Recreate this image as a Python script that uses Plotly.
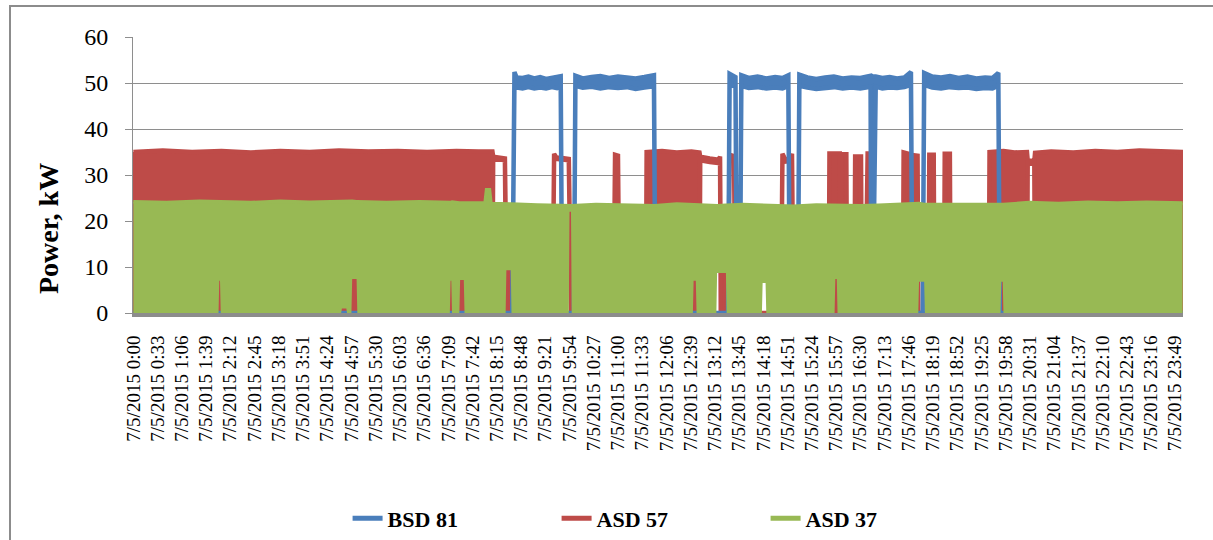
import plotly.graph_objects as go

DATE = "7/5/2015"
MISSING = ("16:46", "16:55")  # minutes absent from the log (labels jump 16:30 -> 17:13)

tick_times = ["0:00", "0:33", "1:06", "1:39", "2:12", "2:45", "3:18", "3:51", "4:24", "4:57",
              "5:30", "6:03", "6:36", "7:09", "7:42", "8:15", "8:48", "9:21", "9:54", "10:27",
              "11:00", "11:33", "12:06", "12:39", "13:12", "13:45", "14:18", "14:51", "15:24",
              "15:57", "16:30", "17:13", "17:46", "18:19", "18:52", "19:25", "19:58", "20:31",
              "21:04", "21:37", "22:10", "22:43", "23:16", "23:49"]

# Each series: time breakpoints with the low / high envelope of the power trace (kW)
bsd81_time = ["0:00", "8:36", "8:39", "8:42", "8:50", "8:58", "9:06", "9:14", "9:22", "9:30", "9:37", "9:42", "9:44",
              "10:00", "10:02", "10:12", "10:24", "10:36", "10:48", "11:00", "11:12", "11:24", "11:36", "11:49", "11:51",
              "13:30", "13:32", "13:40", "13:42", "13:46", "13:48", "13:58", "14:10", "14:22", "14:34", "14:44", "14:52", "14:54",
              "15:05", "15:07", "15:18", "15:30", "15:42", "15:54", "16:06", "16:18", "16:30", "16:44", "16:45",
              "16:57", "17:01", "17:10", "17:20", "17:30", "17:40", "17:49", "17:51",
              "18:05", "18:07", "18:18", "18:30", "18:42", "18:54", "19:06", "19:18", "19:30", "19:40", "19:48", "19:50",
              "23:59"]
bsd81_low = [0, 0, 50.2, 49.0, 48.8, 49.1, 48.8, 49.0, 48.8, 49.1, 48.9, 49.2, 0,
             0, 49.4, 49.0, 49.2, 48.8, 49.1, 48.9, 49.1, 48.7, 49.0, 49.3, 0,
             0, 49.6, 49.2, 0, 0, 49.4, 48.9, 49.1, 48.8, 49.0, 48.8, 49.3, 0,
             0, 49.4, 49.0, 48.7, 48.9, 49.1, 48.8, 49.0, 48.8, 49.2, 0,
             0, 49.2, 48.8, 49.0, 48.9, 49.1, 49.6, 0,
             0, 49.6, 49.0, 48.8, 49.1, 48.9, 49.0, 48.7, 48.9, 48.8, 49.4, 0,
             0]
bsd81_high = [0, 0, 52.4, 51.2, 51.1, 51.4, 51.0, 51.3, 50.9, 51.2, 51.4, 51.5, 0,
              0, 51.6, 51.0, 51.3, 51.5, 51.1, 51.4, 51.2, 51.0, 51.3, 51.7, 0,
              0, 52.0, 51.3, 0, 0, 51.7, 51.1, 51.4, 51.0, 51.3, 51.1, 51.7, 0,
              0, 51.8, 51.2, 50.9, 51.2, 51.4, 51.0, 51.2, 51.1, 51.8, 51.6,
              51.4, 51.4, 51.1, 51.3, 51.0, 51.2, 52.4, 0,
              0, 52.2, 51.4, 51.2, 51.5, 51.1, 51.4, 51.0, 51.2, 51.1, 52.2, 0,
              0]

asd57_time = ["0:00", "0:40", "1:20", "2:00", "2:40", "3:20", "4:00", "4:40", "5:20", "6:00", "6:40", "7:20", "7:50", "8:09",
              "8:10", "8:18", "8:26", "8:28", "8:34", "8:35",
              "9:31", "9:33", "9:36", "9:44", "9:53", "9:56",
              "10:54", "10:56", "11:00", "11:02",
              "11:38", "11:39", "12:00", "12:20", "12:40", "12:51", "12:52", "13:05", "13:17", "13:19", "13:20", "13:27", "13:28",
              "13:30", "13:32", "13:38", "13:40",
              "14:42", "14:44", "14:48", "14:54", "14:57", "14:59",
              "15:47", "15:48", "16:02", "16:03", "16:04", "16:05", "16:11", "16:12",
              "16:22", "16:23", "16:31", "16:32", "16:37", "16:40", "16:45", "16:56", "16:57",
              "17:38", "17:39", "17:46", "17:47", "17:52", "17:53", "17:58", "17:59",
              "18:13", "18:14", "18:20", "18:21", "18:34", "18:35", "18:42", "18:43",
              "19:35", "19:36", "19:55", "20:10", "20:27", "20:28", "20:37", "20:38",
              "21:00", "21:30", "22:00", "22:30", "23:00", "23:30", "23:59"]
asd57_low = [0, 0, 0, 0, 0, 0, 0, 0, 0, 0, 0, 0, 0, 0,
             33.6, 33.4, 33.2, 0, 0, 0,
             0, 34.3, 33.5, 33.4, 33.2, 0,
             0, 34.0, 33.8, 0,
             0, 0, 0, 0, 0, 0, 33.2, 32.8, 32.6, 33.6, 0, 0, 0,
             0, 34.0, 33.7, 0,
             0, 34.2, 32.9, 33.0, 34.2, 0,
             0, 0, 0, 0, 0, 0, 0, 0,
             0, 0, 0, 0, 0, 0, 0, 0, 0,
             0, 0, 0, 33.2, 33.0, 0, 0, 0,
             0, 0, 0, 0, 0, 0, 0, 0,
             0, 0, 0, 0, 0, 32.6, 32.4, 0,
             0, 0, 0, 0, 0, 0, 0]
asd57_high = [35.0, 35.3, 35.0, 35.2, 34.9, 35.2, 35.0, 35.3, 35.1, 35.2, 35.0, 35.2, 35.1, 35.1,
              34.0, 33.8, 33.6, 9.3, 9.3, 0,
              0, 34.6, 33.8, 33.7, 33.5, 0,
              0, 34.4, 34.2, 0,
              0, 35.0, 35.2, 34.9, 35.1, 34.9, 34.0, 33.6, 33.3, 34.0, 8.7, 8.7, 0,
              0, 34.4, 34.1, 0,
              0, 34.6, 33.3, 33.4, 34.6, 0,
              0, 34.7, 34.7, 0, 34.5, 34.5, 34.5, 0,
              0, 34.0, 34.0, 0, 0, 34.7, 34.7, 34.3, 0,
              0, 34.9, 34.6, 33.8, 33.6, 34.3, 34.2, 0,
              0, 34.4, 34.4, 0, 0, 34.6, 34.6, 0,
              0, 35.0, 35.2, 34.9, 35.0, 33.2, 33.0, 34.8,
              35.1, 34.9, 35.2, 35.0, 35.3, 35.1, 35.0]

asd37_time = ["0:00", "0:45", "1:30", "1:56", "1:57", "1:58", "1:59", "2:40", "3:20", "4:00",
              "4:43", "4:44", "4:50", "4:51", "4:57", "4:58", "5:04", "5:05", "5:45", "6:30",
              "7:11", "7:12", "7:13", "7:14", "7:24", "7:25", "7:30", "7:31", "7:59", "8:01", "8:05", "8:07",
              "8:27", "8:28", "8:34", "8:35", "9:10", "9:53", "9:54", "9:56", "9:57",
              "10:30", "11:10", "11:50", "12:20", "12:42", "12:43", "12:46", "12:47",
              "13:14", "13:15", "13:27", "13:28", "13:50", "14:16", "14:17", "14:21", "14:22",
              "15:00", "15:30", "15:55", "15:56", "15:58", "15:59", "16:30", "17:05", "17:40",
              "17:59", "18:00", "18:07", "18:08", "18:45", "19:20", "19:51", "19:52", "19:54", "19:55",
              "20:30", "21:10", "21:50", "22:30", "23:10", "23:59"]
asd37_low = [0, 0, 0, 0, 7.0, 7.0, 0, 0, 0, 0,
             0, 1.0, 1.0, 0, 0, 7.4, 7.4, 0, 0, 0,
             0, 7.0, 7.0, 0, 0, 7.2, 7.2, 0, 0, 0, 0, 0,
             0, 9.3, 9.3, 0, 0, 0, 22.0, 22.0, 0,
             0, 0, 0, 0, 0, 7.0, 7.0, 0,
             0, 8.7, 8.7, 0, 0, 0, 6.5, 6.5, 0,
             0, 0, 0, 7.4, 7.4, 0, 0, 0, 0,
             0, 6.8, 6.8, 0, 0, 0, 0, 6.8, 6.8, 0,
             0, 0, 0, 0, 0, 0]
asd37_high = [24.2, 24.0, 24.3, 24.1, 24.1, 24.2, 24.2, 24.0, 24.3, 24.1,
              24.2, 24.2, 24.4, 24.4, 24.3, 24.3, 24.2, 24.2, 24.0, 24.2,
              24.0, 24.0, 24.1, 24.1, 23.9, 23.9, 24.0, 24.0, 23.9, 26.8, 26.8, 23.8,
              23.6, 23.6, 23.7, 23.7, 23.5, 23.4, 23.4, 23.3, 23.3,
              23.6, 23.4, 23.3, 23.7, 23.5, 23.5, 23.4, 23.4,
              23.3, 23.3, 23.4, 23.4, 23.6, 23.4, 23.4, 23.5, 23.5,
              23.2, 23.5, 23.4, 23.4, 23.5, 23.5, 23.3, 23.4, 23.6,
              23.8, 23.8, 23.6, 23.6, 23.5, 23.6, 23.5, 23.5, 23.6, 23.6,
              24.0, 23.8, 24.1, 23.9, 24.1, 23.9]

COLORS = {"BSD 81": "#4A7EBB", "ASD 57": "#BE4B48", "ASD 37": "#98B954"}
FONT = "Liberation Serif, Times New Roman, serif"


def hm(t):
    h, m = t.split(":")
    return int(h) * 60 + int(m)


def label(t):
    return f"{DATE} {t}"


gap0, gap1 = hm(MISSING[0]), hm(MISSING[1])
categories = [label(f"{m // 60}:{m % 60:02d}") for m in range(1440) if not (gap0 <= m <= gap1)]


def envelope(times, low, high):
    xs = [label(t) for t in times]
    return xs + xs[::-1] + [xs[0]], list(high) + list(low)[::-1] + [high[0]]


fig = go.Figure()

# ASD 57 and BSD 81: filled envelope with outline (outline draws steady runs and on/off transitions)
for name, (t, lo, hi) in [("ASD 57", (asd57_time, asd57_low, asd57_high)),
                          ("BSD 81", (bsd81_time, bsd81_low, bsd81_high))]:
    xs, ys = envelope(t, lo, hi)
    fig.add_trace(go.Scatter(x=xs, y=ys, mode="lines", fill="toself", fillcolor=COLORS[name],
                             line=dict(color=COLORS[name], width=4.5), showlegend=False,
                             hoverinfo="skip", name=name))

# ASD 37: filled envelope (no outline so the short gaps stay open) plus its upper edge
xs, ys = envelope(asd37_time, asd37_low, asd37_high)
fig.add_trace(go.Scatter(x=xs, y=ys, mode="lines", fill="toself", fillcolor=COLORS["ASD 37"],
                         line=dict(width=0), showlegend=False, hoverinfo="skip", name="ASD 37"))
fig.add_trace(go.Scatter(x=[label(t) for t in asd37_time], y=asd37_high, mode="lines",
                         line=dict(color=COLORS["ASD 37"], width=3.5), showlegend=False,
                         hoverinfo="skip", name="ASD 37"))

for name in ["BSD 81", "ASD 57", "ASD 37"]:
    fig.add_trace(go.Scatter(x=[None], y=[None], mode="lines", name=name,
                             line=dict(color=COLORS[name], width=5)))

L, R, T, B = 133, 1183, 37, 313
W, H = 1213, 540
pw, ph = R - L, B - T


def px_x(x):
    return (x - L) / pw


def px_y(y):
    return (B - y) / ph


fig.update_layout(
    template="none",
    width=W, height=H,
    margin=dict(l=L, r=W - R, t=T, b=H - B, autoexpand=False),
    paper_bgcolor="white", plot_bgcolor="white",
    font=dict(family=FONT, color="black"),
    showlegend=True,
    legend=dict(orientation="h", xref="container", yref="container", x=0.545, y=0.04,
                xanchor="center", yanchor="middle", font=dict(size=22, family=FONT, weight="bold"),
                entrywidth=164, bgcolor="rgba(0,0,0,0)", itemwidth=30),
    xaxis=dict(type="category", categoryorder="array", categoryarray=categories,
               range=[-0.5, len(categories) - 0.5], tickmode="array",
               tickvals=[label(t) for t in tick_times], ticktext=[label(t) for t in tick_times],
               tickangle=-90, tickfont=dict(size=19, family=FONT), ticks="", showgrid=False,
               showline=True, linecolor="#8C8C8C", linewidth=4, automargin=False, zeroline=False,
               ticklabelstandoff=11),
    yaxis=dict(range=[0, 60], dtick=10, tick0=0, showgrid=True, gridcolor="#8E8E8E", gridwidth=1,
               showline=True, linecolor="#8E8E8E", linewidth=1, ticks="outside", ticklen=7,
               tickcolor="#8E8E8E", tickfont=dict(size=24, family=FONT), zeroline=False,
               automargin=False, ticklabelstandoff=12),
    annotations=[dict(text="<b>Power, kW</b>", xref="paper", yref="paper", x=px_x(48), y=px_y(229),
                      xanchor="center", yanchor="middle", textangle=-90, showarrow=False,
                      font=dict(size=28, family=FONT, color="black"))],
    shapes=[dict(type="rect", xref="paper", yref="paper", x0=px_x(10), x1=px_x(1225),
                 y0=px_y(560), y1=px_y(6), line=dict(color="#8C8C8C", width=2),
                 fillcolor="rgba(0,0,0,0)", layer="below")],
)

fig.write_html("out.html", config={"displayModeBar": False},
               post_script="document.body.style.margin='0';document.body.style.overflow='hidden';")
